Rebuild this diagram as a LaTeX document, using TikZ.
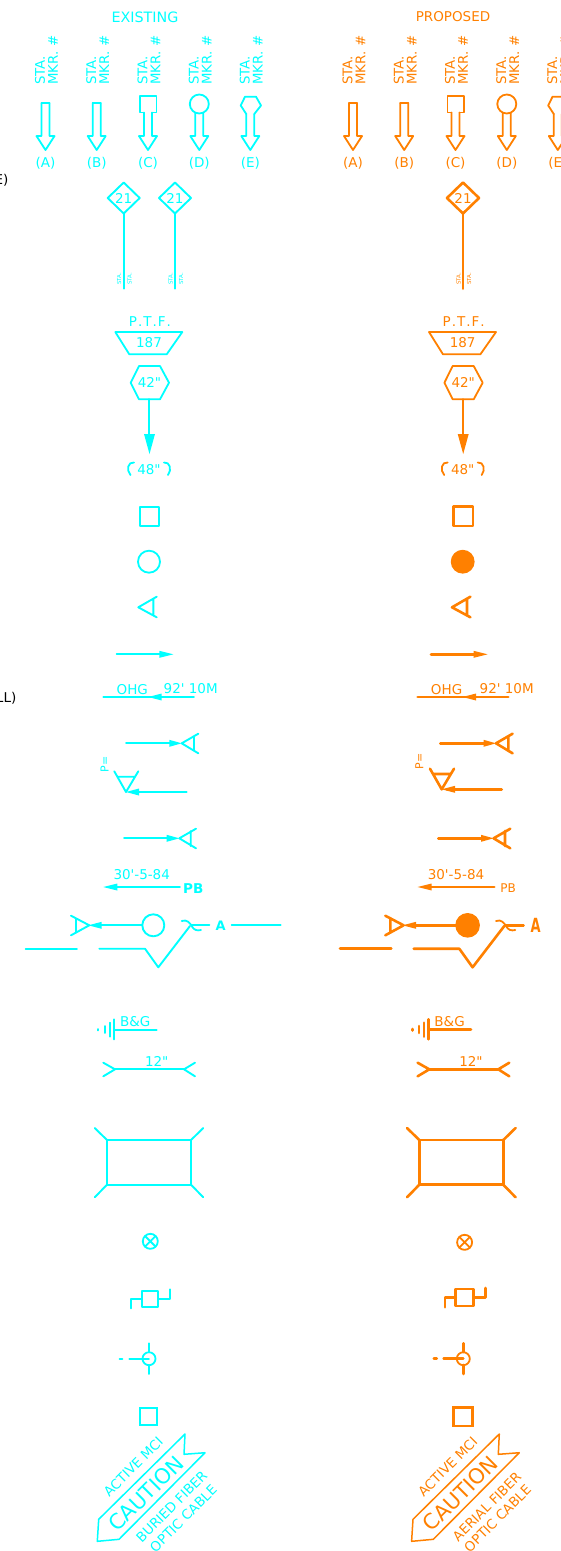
\documentclass[tikz,border=0pt]{standalone}
\usepackage{fontspec}
\setmainfont{DejaVu Sans}
\newfontfamily\plainf{DejaVu Sans}
\definecolor{cyanC}{HTML}{00FFFF}
\definecolor{orangeC}{HTML}{FF8000}
\tikzset{
  x=1pt,y=-1pt,
  txt/.style={inner sep=0pt,font=\fontsize{13.5}{15}\plainf},
  small/.style={inner sep=0pt,font=\fontsize{5.5}{6}\selectfont,rotate=90,anchor=west},
  vert/.style={inner sep=0pt,font=\fontsize{13.3}{14}\selectfont,rotate=90,anchor=west},
  cau/.style={inner sep=0pt,rotate=45,font=\fontsize{13.4}{15}\selectfont},
  ln/.style={line width=1.8pt,line join=round,line cap=round},
}
% head: tip x, base x, y
\newcommand\myhd[3]{\fill (#1,#3) -- (#2,#3-3.5) -- (#2,#3+3.5) -- cycle;}
% stake arrow body below top: cx
\newcommand\myshaft[2]{\draw[ln] (#1-4,#2) -- (#1-4,136) -- (#1-9,136) -- (#1,150) -- (#1+9,136) -- (#1+4,136) -- (#1+4,#2);}
\newcommand\mymarks[1]{
  \node[vert] (sta#1) at (#1-5.5,85) {STA.};
  \node[vert] (mkr#1) at (#1+7.5,85) {MKR.\hspace{5pt}\#};
}
\newcommand\mystakes{
  \myshaft{45.5}{103}\draw[ln] (41.5,103) -- (49.5,103);
  \myshaft{96.7}{103}\draw[ln] (92.7,103) -- (100.7,103);
  \myshaft{148}{112.5}\draw[ln] (144,112.5) -- (140,112.5) -- (140,96) -- (156.5,96) -- (156.5,112.5) -- (152,112.5);
  \myshaft{199.3}{113}\draw[ln] (199.3,104) circle[radius=9.5];
  \myshaft{250.3}{114}\draw[ln] (246.3,114) -- (240.7,105.5) -- (245,96.7) -- (256,96.7) -- (261,105.5) -- (254.3,114);
  \mymarks{45.5}\mymarks{96.7}\mymarks{148}\mymarks{199.3}\mymarks{250.3}
  \node[txt] (la) at (45.5,163) {(A)};
  \node[txt] (lb) at (96.7,163) {(B)};
  \node[txt] (lc) at (148,163) {(C)};
  \node[txt] (ld) at (199.3,163) {(D)};
  \node[txt] (le) at (250.3,163) {(E)};
}
\newcommand\mysignpost[1]{
  \draw[hv] (#1-16,198) -- (#1,182.5) -- (#1+16,198) -- (#1,213.5) -- cycle;
  \draw[hv] (#1,213.5) -- (#1,288.7);
  \node[txt] (n#1) at (#1,198.5) {21};
  \node[small] (s#1a) at (#1-4.5,285) {STA.};
  \node[small] (s#1b) at (#1+6,285) {STA.};
}
\newcommand\mymidsyms{
  \node[txt] (ptf) at (150,322) {P\hspace{1pt}.\hspace{1pt}T\hspace{1pt}.\hspace{1pt}F\hspace{1pt}.};
  \draw[ln] (115.3,332) -- (182.3,332) -- (166.7,354.3) -- (129.3,354.3) -- cycle;
  \node[txt] (n187) at (149,343) {187};
  \draw[ln] (130.7,382.7) -- (139,366) -- (160,366) -- (169,382.7) -- (160,399.3) -- (139,399.3) -- cycle;
  \node[txt] (n42) at (149.5,382.5) {42"};
  \draw[ln,line width=2.2pt] (149.3,399.3) -- (149.3,436);
  \fill (149.5,454) -- (144,434) -- (155,434) -- cycle;
  \node[txt] (n48) at (149,469.3) {48"};
  \draw[ln] (134,462.5) .. controls (128,461.5) and (126,470) .. (130.5,475);
  \draw[ln] (164,462.5) .. controls (170,461.5) and (172,470) .. (168,475);
  \draw[hv] (140,506.7) rectangle (159.3,526);
  \draw[ln,disc] (149,561.7) circle[radius=11];
  \draw[hv] (156.7,596.7) -- (138.3,607.3) -- (156.7,617.3) (153.3,598.7) -- (153.3,615.3);
}
\newcommand\myhlines[1]{
  \draw[hv] (116.7,654.3) -- (160,654.3); \myhd{173.3}{159.3}{654.3}
  \draw[hv] (103.3,697) -- (194,697); \myhd{148.3}{161.7}{697}
  \node[txt] (ohg) at (132.3,689.3) {OHG};
  \node[txt] (dist) at (#1,688.3) {92' 10M};
  \draw[hv] (126,743.3) -- (175,743.3); \myhd{181.7}{169.3}{743.3}
  \draw[hv] (198.3,733.7) -- (181.7,743.3) -- (198.3,753.3) (194,736) -- (194,751);
  \draw[hv] (124,838.3) -- (172,838.3); \myhd{179.3}{166.7}{838.3}
  \draw[hv] (196,828.7) -- (179.3,838.3) -- (196,848.3) (190.7,831) -- (190.7,846);
  \node[txt] (date) at (141.7,874.3) {30'-5-84};
  \draw[hv] (180,887) -- (110,887); \myhd{103.3}{117.3}{887}
  \draw[hv] (71,915.7) -- (89.3,925.3) -- (71,935.3) (76,918.5) -- (76,932.5);
  \draw[hv] (142,925.3) -- (95,925.3); \myhd{88.3}{101.7}{925.3}
  \draw[hv,disc] (153.3,925.3) circle[radius=11];
  \draw[ln] (181.7,921) .. controls (187,919) and (190,923) .. (192,926.5) .. controls (194,930) and (197,931) .. (201,930);
  \draw[hv] (191.7,925.3) -- (209.3,925.3);
  \draw[hv] (25.7,948.7) -- (77,948.7);
  \draw[hv] (99.3,948.7) -- (145,948.7) -- (158.3,967.3) -- (190,926);
  % B&G
  \node[txt] (bg) at (135.3,1021.3) {B\&G};
  \draw[hv] (114.3,1029.7) -- (156.7,1029.7);
  \draw[hv] (114.3,1019.3) -- (114.3,1039.3) (109.7,1022.7) -- (109.7,1036.7) (104.7,1026) -- (104.7,1033);
  \draw[hv] (98,1029) -- (98,1030.5);
  % 12in
  \node[txt] (twelve) at (156.7,1061.3) {12"};
  \draw[hv] (103.3,1062.7) -- (115,1069.3) -- (103.3,1076.3);
  \draw[hv] (195,1062.7) -- (184,1069.3) -- (195,1076.3);
  \draw[hv] (115,1069.3) -- (184,1069.3);
}
\newcommand\myvault{
  \draw[hv] (107,1140) rectangle (191,1184.7);
  \draw[hv] (107,1140) -- (94.7,1128) (191,1140) -- (203.3,1128) (107,1184.7) -- (94.7,1197.3) (191,1184.7) -- (203.3,1197.3);
}
\newcommand\myxcirc{
  \draw[ln] (150.3,1241.3) circle[radius=7.5];
  \draw[ln] (145,1236) -- (155.6,1246.6) (145,1246.6) -- (155.6,1236);
}
\newcommand\mytapsyms{
  \draw[ln] (149,1358.7) circle[radius=6.5];
  \draw[hv] (149,1343.3) -- (149,1352) (149,1365) -- (149,1374);
  \draw[hv] (119.5,1358.7) -- (122.5,1358.7) (129.3,1358.7) -- (149,1358.7);
}
\newcommand\mycaution[2]{
  \draw[line width=1.5pt,line join=round] (98.7,1519.3) -- (185,1434) -- (184,1454.3) -- (205,1452.7) -- (119,1539.3) -- (97.3,1541.3) -- cycle;
  \node[cau,font=\fontsize{21}{23}\selectfont] (caut) at (146,1493.3) {CAUTION};
  \node[cau] (act) at (133.3,1466.7) {ACTIVE MCI};
  \node[cau] (kind) at (#2,1506.7) {#1};
  \node[cau] (opt) at (183.3,1518.5) {OPTIC CABLE};
}
\begin{document}
\begin{tikzpicture}
\useasboundingbox (0,0) rectangle (560,1551);
\node[txt,anchor=east,black] (bl1) at (8.5,180) {E)};
\node[txt,anchor=east,black] (bl2) at (16.5,698.5) {LL)};

% EXISTING
\begin{scope}[cyanC,hv/.style={line width=1.9pt,line join=round,line cap=round},disc/.style={}]
  \node[txt,font=\fontsize{14.3}{15}\plainf] (exist) at (145,17) {EXISTING};
  \mystakes
  \mysignpost{123.7}
  \mysignpost{175}
  \mymidsyms
  \myhlines{190.7}
  \node[vert,font=\fontsize{11}{12}\selectfont] (peq) at (104.7,772.7) {P=};
  \draw[hv] (114.3,771.3) -- (126,792) -- (138.3,771.3) (118,776.7) -- (134,776.7);
  \draw[hv] (186.7,792) -- (132,792); \myhd{126}{139}{792}
  \node[txt] (pb) at (193.3,888.3) {\textbf{PB}};
  \node[txt,font=\fontsize{13}{14}\selectfont\bfseries] (a) at (220.7,926) {A};
  \draw[hv] (231.7,925.3) -- (280.7,925.3);
  \myvault
  \myxcirc
  \draw[hv] (142,1291) rectangle (158.3,1306.7);
  \draw[hv] (142,1299) -- (130.7,1299) -- (130.7,1308.3) (158.3,1299) -- (170,1299) -- (170,1289.3);
  \mytapsyms
  \draw[line width=2pt] (139.7,1407.7) rectangle (156.7,1425);
  \mycaution{BURIED FIBER}{171.7}
\end{scope}

% PROPOSED
\begin{scope}[orangeC,hv/.style={line width=2.6pt,line join=round,line cap=round},disc/.style={fill}]
  \node[txt] (prop) at (453,17) {PROPOSED};
  \begin{scope}[xshift=307.5pt]
    \mystakes
  \end{scope}
  \mysignpost{463}
  \begin{scope}[xshift=313.7pt]
    \mymidsyms
  \end{scope}
  \begin{scope}[xshift=314.3pt]
    \myhlines{192.4}
    \node[txt,font=\fontsize{12}{13}\plainf] (pb2) at (193.7,888) {PB};
    \node[txt,font=\fontsize{13}{15}\selectfont\bfseries] (a2) at (221.4,925) {\scalebox{1}[1.5]{A}};
  \end{scope}
  \node[vert,font=\fontsize{11}{12}\selectfont] (peq2) at (419.3,769.5) {P=};
  \draw[hv] (430,768.7) -- (441.7,789.3) -- (454,768.7) (434,774) -- (450,774);
  \draw[hv] (501.7,789.3) -- (447,789.3); \myhd{441.7}{455}{789.3}
  \begin{scope}[xshift=312.3pt]
    \myvault
  \end{scope}
  \begin{scope}[xshift=314.3pt,yshift=-1pt]
    \myxcirc
  \end{scope}
  \draw[hv] (455.7,1289) rectangle (473.3,1306);
  \draw[hv] (455.7,1297.3) -- (445,1297.3) -- (445,1307.3) (473.3,1297.3) -- (485.3,1297.3) -- (485.3,1288);
  \begin{scope}[xshift=314.3pt]
    \mytapsyms
  \end{scope}
  \draw[line width=2.8pt] (453.7,1407.7) rectangle (472.3,1426);
  \begin{scope}[xshift=314.3pt]
    \mycaution{AERIAL FIBER}{172.6}
  \end{scope}
\end{scope}
\end{tikzpicture}
\end{document}
